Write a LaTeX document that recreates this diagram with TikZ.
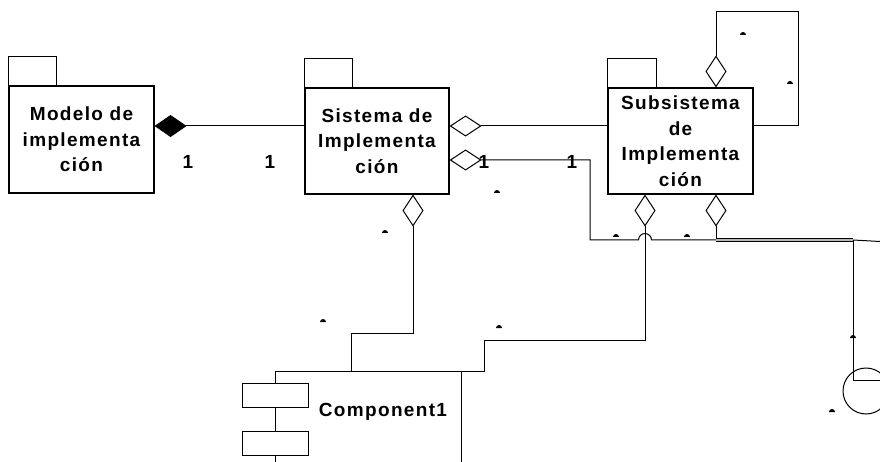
\documentclass[tikz,border=0pt]{standalone}
\usepackage{fontspec}
\setmainfont{Liberation Sans}[LetterSpace=7]
\usetikzlibrary{arrows.meta,positioning}
\tikzset{
  figbase/.style={
    x=1pt, y=-1pt,
    line width=1pt,
    font=\fontsize{19}{25.5}\selectfont\bfseries,
  },
  pkg/.style={draw, line width=1.1pt, fill=white, align=center, inner sep=0pt},
  pkgtab/.style={draw, line width=1.1pt},
  aggr/.style={{Diamond[open, length=32pt, width=21pt, line width=1pt]}-},
  compo/.style={{Diamond[length=32pt, width=22pt]}-},
  slot/.style={draw, line width=1pt, fill=white, minimum width=66pt, minimum height=24pt, inner sep=0pt},
  mult/.style={inner sep=0pt},
  hilite/.style={draw=black, double=gray!55, double distance=2pt, line width=0.8pt},
}

\begin{document}
\begin{tikzpicture}[figbase]
  \useasboundingbox (0,0) rectangle (880,462);
  \clip (0,0) rectangle (880,462);

  % packages
  \node[pkg, minimum width=145pt, minimum height=107pt] (pm) at (81.5,139.5)
    {Modelo de\\implementa\\ción};
  \draw[pkgtab] (pm.north west) rectangle ++(48,-29);
  \node[pkg, minimum width=144pt, minimum height=106pt] (ps) at (377,141)
    {Sistema de\\Implementa\\ción};
  \draw[pkgtab] (ps.north west) rectangle ++(48,-29);
  \node[pkg, minimum width=145pt, minimum height=106pt] (psub) at (680.5,141)
    {Subsistema\\de\\Implementa\\ción};
  \draw[pkgtab] (psub.north west) rectangle ++(49,-29);

  % component
  \node[draw, line width=1pt, anchor=north west, minimum width=186pt, minimum height=130pt] (comp1) at (275,371) {};
  \node[slot] (c1a) at (275,395) {};
  \node[slot] (c1b) at (275,443) {};
  \node[inner sep=0pt] (c1lab) at (383,412) {Component1};

  % interface
  \node[draw, circle, line width=1pt, minimum size=46pt, inner sep=0pt] (iface) at (866,391) {};
  \coordinate (jn) at (716,240);
  \coordinate (bend) at (590,240);
  \coordinate (jump) at (645,240);
  \coordinate (split) at (853,240);
  \coordinate (offr) at (880,241.5);
  \coordinate (offi) at (880,380);

  % multiplicities
  \node[mult] (m1) at (188,162) {1};
  \node[mult] (m2) at (270,162) {1};
  \node[mult] (m3) at (484,162) {1};
  \node[mult] (m4) at (572,162) {1};

  % associations
  \draw[compo] ([yshift=13.5pt]pm.east) -- ([yshift=13.5pt]pm.east -| ps.west);
  \draw[aggr] ([yshift=15pt]ps.east) -- ([yshift=15pt]ps.east -| psub.west);
  \draw[aggr] ([yshift=-19pt]ps.east) -| (bend) -- ([xshift=-6.5pt]jump)
    arc[start angle=180, end angle=0, radius=6.5pt] -- (jn);
  \draw[aggr] ([xshift=36pt]ps.south) -- ++(0,139) -| ([xshift=76pt]comp1.north west);
  \draw[aggr] ([xshift=-35.5pt]psub.south) -- ++(0,146) -| ([xshift=22pt]comp1.north east) -- (comp1.north east);
  \draw[aggr] ([xshift=35.5pt]psub.south) -- (jn);
  \draw[aggr] ([xshift=35.5pt]psub.north) -- ++(0,-76) -- ++(82,0) |- ([yshift=15pt]psub.east);
  \draw[hilite] (jn) -- (split);
  \draw (split) -- (offr);
  \draw (split) |- (offi);

  % role marks
  \foreach \p in {(385,233),(497,193),(323,322),(499,328),(616,237),(687,237),(743,35),(790,84),(853,338),(832,412)}
    \fill \p ++(-3pt,0) arc[start angle=180, end angle=0, radius=3pt] -- cycle;
\end{tikzpicture}
\end{document}
